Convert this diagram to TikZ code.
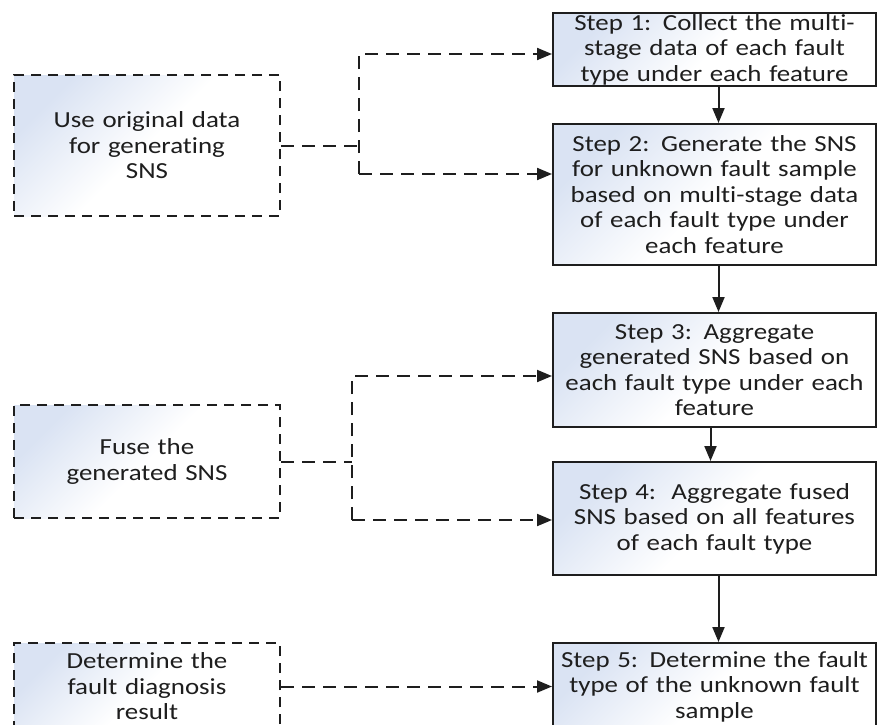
\documentclass[tikz,border=0pt]{standalone}
\usepackage{fontspec}
\setmainfont{Carlito}[FakeStretch=1.17, Ligatures=NoCommon]
\usetikzlibrary{arrows.meta}
\definecolor{boxblue}{RGB}{218,227,243}
\definecolor{inkgray}{RGB}{30,30,30}

\begin{document}
\begin{tikzpicture}[x=1pt, y=-1pt,
    stepbox/.style={draw=inkgray, line width=2pt, top color=boxblue, bottom color=white,
        middle color=white, shading angle=45, minimum width=323pt, text width=318pt,
        align=center, inner sep=0pt, font=\fontsize{23}{25.5}\selectfont, text=inkgray},
    taskbox/.style={stepbox, dash pattern=on 10pt off 7pt, minimum width=266pt, text width=262pt},
    dashlink/.style={draw=inkgray, line width=2pt, dash pattern=on 13pt off 8pt},
    dasharrow/.style={dashlink, -{Triangle[length=15pt,width=12pt]}},
    flowarrow/.style={draw=inkgray, line width=2pt, -{Triangle[length=15pt,width=12pt]}}]
    \useasboundingbox (0,0) rectangle (877,724);
    \clip (0,0) rectangle (877,724);
    % main steps
    \node[stepbox, minimum height=73pt] (s1) at (714.5,49.5) {Step 1: Collect the multi-\\stage data of each fault\\type under each feature};
    \node[stepbox, minimum height=141pt] (s2) at (714.5,194.5) {Step 2: Generate the SNS\\for unknown fault sample\\based on multi-stage data\\of each fault type under\\each feature};
    \node[stepbox, minimum height=114pt] (s3) at (714.5,370) {Step 3: Aggregate\\generated SNS based on\\each fault type under each\\feature};
    \node[stepbox, minimum height=113pt] (s4) at (714.5,518.5) {Step 4:\ \ Aggregate fused\\SNS based on all features\\of each fault type};
    \node[stepbox, minimum height=87pt] (s5) at (714.5,686.5) {Step 5: Determine the fault\\type of the unknown fault\\sample};
    % tasks
    \node[taskbox, minimum height=141pt] (u1) at (147,145.5) {Use original data\\for generating\\SNS};
    \node[taskbox, minimum height=113pt] (u2) at (147,461.5) {Fuse the\\generated SNS};
    \node[taskbox, minimum height=87pt] (u3) at (147,686.5) {Determine the\\fault diagnosis\\result};
    % flow
    \draw[flowarrow] ([xshift=4pt]s1.south) -- ([xshift=4pt]s2.north);
    \draw[flowarrow] ([xshift=4pt]s2.south) -- ([xshift=4pt]s3.north);
    \draw[flowarrow] ([xshift=-4pt]s3.south) -- ([xshift=-4pt]s4.north);
    \draw[flowarrow] ([xshift=4pt]s4.south) -- ([xshift=4pt]s5.north);
    % branches
    \coordinate (j1a) at (359,54);
    \coordinate (j1b) at (359,174);
    \draw[dashlink] (u1.east) -- (u1.east -| j1a);
    \draw[dasharrow] (j1b) -- (j1a) -- (j1a -| s1.west);
    \draw[dasharrow] (j1b) -- (j1b -| s2.west);
    \coordinate (j2a) at (352,376);
    \coordinate (j2b) at (352,520);
    \draw[dashlink] (u2.east) -- (u2.east -| j2a);
    \draw[dasharrow] (j2b) -- (j2a) -- (j2a -| s3.west);
    \draw[dasharrow] (j2b) -- (j2b -| s4.west);
    \draw[dasharrow] (u3) -- (s5);
\end{tikzpicture}
\end{document}
